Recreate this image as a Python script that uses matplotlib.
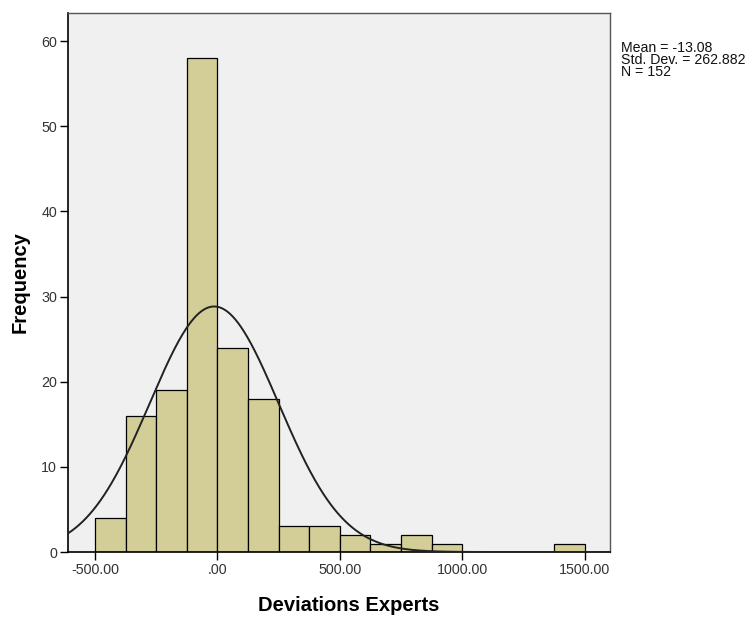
import matplotlib
matplotlib.use("Agg")
import matplotlib.pyplot as plt
import numpy as np

# histogram bins (width 125) and counts
bin_edges = [-500, -375, -250, -125, 0, 125, 250, 375, 500, 625, 750, 875, 1000,
             1125, 1250, 1375, 1500]
counts = [4, 16, 19, 58, 24, 18, 3, 3, 2, 1, 2, 1, 0, 0, 0, 1]
mean_val = -13.08
std_val = 262.882
n_total = 152
x_ticks = [-500, 0, 500, 1000, 1500]
x_tick_labels = ["-500.00", ".00", "500.00", "1000.00", "1500.00"]
y_ticks = [0, 10, 20, 30, 40, 50, 60]

plt.rcParams['font.family'] = ['Liberation Sans', 'DejaVu Sans']

fig = plt.figure(figsize=(7.48, 6.17), dpi=100)
ax = fig.add_axes([0.0909, 0.1053, 0.7246, 0.8737])
ax.set_facecolor('#F0F0F0')

edges = np.array(bin_edges, dtype=float)
widths = np.diff(edges)
ax.bar(edges[:-1], counts, width=widths, align='edge', color='#D3CE97',
       edgecolor='black', linewidth=0.9, zorder=2)

# normal curve scaled to the counts
xs = np.linspace(-610, 1604, 600)
bw = widths[0]
ys = n_total * bw / (std_val * np.sqrt(2 * np.pi)) * np.exp(-0.5 * ((xs - mean_val) / std_val) ** 2)
ax.plot(xs, ys, color='#222222', linewidth=1.4, zorder=3)

ax.set_xlim(-610, 1604)
ax.set_ylim(0, 63.3)
ax.set_xticks(x_ticks)
ax.set_xticklabels(x_tick_labels)
ax.set_yticks(y_ticks)
ax.tick_params(axis='both', direction='out', length=5.5, width=1, labelsize=10.3,
               colors='black', labelcolor='#333333', pad=2.5)

for side in ['left', 'bottom']:
    ax.spines[side].set_color('black')
    ax.spines[side].set_linewidth(1.2)
for side in ['top', 'right']:
    ax.spines[side].set_color('#555555')
    ax.spines[side].set_linewidth(1.0)

ax.set_xlabel('Deviations Experts', fontsize=14.5, fontweight='bold', va='center')
ax.xaxis.set_label_coords(0.517, -0.0983)
ax.set_ylabel('Frequency', fontsize=14.5, fontweight='bold', va='center')
ax.yaxis.set_label_coords(-0.0886, 0.501)

fig.text(621 / 748, 1 - 41 / 617,
         "Mean = -13.08\nStd. Dev. = 262.882\nN = 152",
         fontsize=10.2, va='top', ha='left', linespacing=0.84, color='#111111')

fig.savefig('out.png', dpi=100)
